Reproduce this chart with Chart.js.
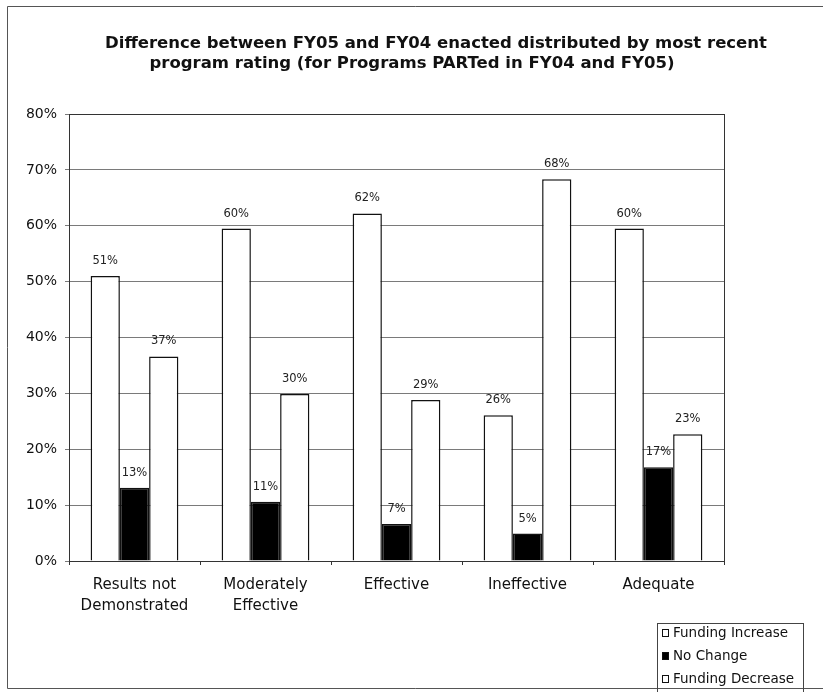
<!DOCTYPE html>
<html>
<head>
<meta charset="utf-8">
<title>FY05 vs FY04 funding by program rating</title>
<script src="https://cdn.jsdelivr.net/npm/chart.js@4"></script>
<style>
  html, body { margin: 0; padding: 0; background: #fff; }
  #wrap { width: 823px; height: 692px; }
</style>
</head>
<body>
<div id="wrap"><canvas id="fundingChart" width="823" height="692"></canvas></div>
<script>
// data
const categories = [['Results not', 'Demonstrated'], ['Moderately', 'Effective'], 'Effective', 'Ineffective', 'Adequate'];
const seriesNames = ['Funding Increase', 'No Change', 'Funding Decrease'];
const fundingIncrease = [51.0, 59.5, 62.2, 26.1, 59.5];
const noChange = [13.1, 10.6, 6.6, 4.9, 16.8];
const fundingDecrease = [36.6, 29.9, 28.8, 68.3, 22.7];
const yTicks = [0, 10, 20, 30, 40, 50, 60, 70, 80];
const titleLines = [
  'Difference between FY05 and FY04 enacted distributed by most recent',
  'program rating (for Programs PARTed in FY04 and FY05)'
];

const font = 'DejaVu Sans';

// white page, outer frame and two-line title
const framePlugin = {
  id: 'frame',
  beforeDraw(chart) {
    const ctx = chart.ctx;
    ctx.save();
    ctx.fillStyle = '#fff';
    ctx.fillRect(0, 0, chart.width, chart.height);
    ctx.strokeStyle = '#555';
    ctx.lineWidth = 1;
    ctx.beginPath();
    ctx.moveTo(823, 6.5);
    ctx.lineTo(7.5, 6.5);
    ctx.lineTo(7.5, 688.5);
    ctx.lineTo(823, 688.5);
    ctx.stroke();

    ctx.fillStyle = '#111';
    ctx.font = 'bold 16.5px ' + font;
    ctx.textAlign = 'center';
    ctx.textBaseline = 'middle';
    ctx.fillText(titleLines[0], 436, 44);
    ctx.fillText(titleLines[1], 412, 64);
    ctx.restore();
  }
};

// box round the plot area
const plotBorder = {
  id: 'plotBorder',
  beforeDatasetsDraw(chart) {
    const a = chart.chartArea;
    const ctx = chart.ctx;
    ctx.save();
    ctx.strokeStyle = '#333';
    ctx.lineWidth = 1;
    ctx.strokeRect(a.left + 0.5, a.top + 0.5, a.right - a.left, a.bottom - a.top);
    ctx.restore();
  }
};

// percent labels above bars
const barLabels = {
  id: 'barLabels',
  afterDatasetsDraw(chart) {
    const ctx = chart.ctx;
    ctx.save();
    ctx.fillStyle = '#222';
    ctx.font = '11.5px ' + font;
    ctx.textAlign = 'center';
    ctx.textBaseline = 'middle';
    chart.data.datasets.forEach((ds, i) => {
      chart.getDatasetMeta(i).data.forEach((bar, j) => {
        ctx.fillText(Math.round(ds.data[j]) + '%', bar.x, bar.y - 15);
      });
    });
    ctx.restore();
  }
};

// boxed legend bottom right
const legendBox = {
  id: 'legendBox',
  afterDraw(chart) {
    const ctx = chart.ctx;
    ctx.save();
    ctx.strokeStyle = '#444';
    ctx.lineWidth = 1;
    ctx.strokeRect(657.5, 623.5, 146, 70);
    ctx.font = '13.5px ' + font;
    ctx.textBaseline = 'middle';
    ctx.textAlign = 'left';
    chart.data.datasets.forEach((ds, i) => {
      const y = 633 + i * 23;
      ctx.fillStyle = ds.backgroundColor;
      ctx.fillRect(662, y - 3.5, 6, 7);
      ctx.strokeStyle = '#111';
      ctx.strokeRect(662.5, y - 3.5, 6, 7);
      ctx.fillStyle = '#111';
      ctx.fillText(ds.label, 673, y);
    });
    ctx.restore();
  }
};

new Chart(document.getElementById('fundingChart'), {
  type: 'bar',
  data: {
    labels: categories,
    datasets: [
      { label: seriesNames[0], data: fundingIncrease, backgroundColor: '#ffffff', borderColor: '#111', borderWidth: 1.5 },
      { label: seriesNames[1], data: noChange, backgroundColor: '#000000', borderColor: '#111', borderWidth: 1.5 },
      { label: seriesNames[2], data: fundingDecrease, backgroundColor: '#ffffff', borderColor: '#111', borderWidth: 1.5 }
    ]
  },
  options: {
    responsive: false,
    animation: false,
    devicePixelRatio: 1,
    layout: { padding: { top: 114, right: 99, bottom: 71, left: 0 } },
    datasets: { bar: { categoryPercentage: 0.67, barPercentage: 1.0 } },
    plugins: {
      legend: { display: false },
      title: { display: false },
      tooltip: { enabled: false }
    },
    scales: {
      x: {
        grid: { drawOnChartArea: false, tickLength: 4, color: '#333' },
        border: { color: '#222' },
        ticks: { color: '#111', font: { family: font, size: 15, lineHeight: 1.4 }, padding: 10, maxRotation: 0 },
        afterFit(scale) { scale.height = 60; }
      },
      y: {
        min: yTicks[0],
        max: yTicks[yTicks.length - 1],
        afterBuildTicks(scale) { scale.ticks = yTicks.map(v => ({ value: v })); },
        grid: { color: '#7a7a7a', tickLength: 4 },
        border: { color: '#222' },
        ticks: { color: '#111', font: { family: font, size: 14 }, padding: 8, callback: v => v + '%' },
        afterFit(scale) { scale.width = 69; }
      }
    }
  },
  plugins: [framePlugin, plotBorder, barLabels, legendBox]
});
</script>
</body>
</html>
